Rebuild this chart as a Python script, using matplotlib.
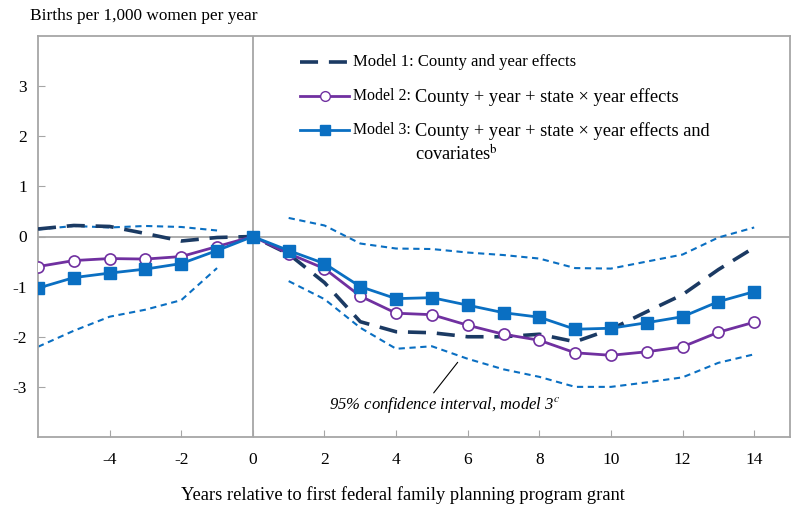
import matplotlib.pyplot as plt
from matplotlib.lines import Line2D

plt.rcParams['font.family'] = ['Liberation Serif', 'DejaVu Serif']
plt.rcParams['mathtext.fontset'] = 'stix'
plt.rcParams['axes.unicode_minus'] = False

# data
years = list(range(-6, 15))
model1 = [0.15, 0.22, 0.20, 0.06, -0.09, -0.02, 0.0,
          -0.35, -0.92, -1.70, -1.90, -1.92, -2.00, -2.00, -1.95,
          -2.10, -1.85, -1.50, -1.16, -0.66, -0.22]
model2 = [-0.60, -0.48, -0.44, -0.45, -0.40, -0.20, 0.0,
          -0.34, -0.64, -1.19, -1.53, -1.56, -1.77, -1.95, -2.07,
          -2.32, -2.37, -2.30, -2.20, -1.91, -1.71]
model3 = [-1.03, -0.82, -0.73, -0.65, -0.54, -0.28, 0.0,
          -0.28, -0.54, -1.00, -1.24, -1.22, -1.37, -1.52, -1.61,
          -1.85, -1.83, -1.72, -1.60, -1.30, -1.10]

ci_years_pre = list(range(-6, 0))
ci_upper_pre = [0.14, 0.21, 0.18, 0.21, 0.19, 0.12]
ci_lower_pre = [-2.20, -1.88, -1.60, -1.46, -1.27, -0.63]
ci_years_post = list(range(1, 15))
ci_upper_post = [0.37, 0.22, -0.14, -0.24, -0.25, -0.32, -0.37, -0.44,
                 -0.63, -0.64, -0.50, -0.36, -0.02, 0.18]
ci_lower_post = [-0.89, -1.25, -1.82, -2.24, -2.19, -2.44, -2.65, -2.80,
                 -3.00, -3.00, -2.91, -2.81, -2.52, -2.35]

xticks = list(range(-4, 15, 2))
yticks = [-3, -2, -1, 0, 1, 2, 3]

navy = '#1B3A63'
purple = '#7030A0'
blue = '#0A6FC2'
grey = '#A6A6A6'

fig = plt.figure(figsize=(8, 5.13), dpi=100)
ax = fig.add_axes([38 / 800, 1 - 437 / 513, 752 / 800, 401 / 513])

ax.axhline(0, color=grey, lw=1.3, zorder=1)
ax.axvline(0, color=grey, lw=1.3, zorder=1)

for yrs, lo, hi in [(ci_years_pre, ci_lower_pre, ci_upper_pre),
                    (ci_years_post, ci_lower_post, ci_upper_post)]:
    ax.plot(yrs, hi, color=blue, lw=1.5, dashes=(3, 2.2), zorder=2)
    ax.plot(yrs, lo, color=blue, lw=1.5, dashes=(3, 2.2), zorder=2)

ax.plot(years, model1, color=navy, lw=2.6, dashes=(5, 3), zorder=3)
ax.plot(years, model2, color=purple, lw=2, marker='o', ms=8,
        mfc='white', mec=purple, mew=1.2, zorder=4)
ax.plot(years, model3, color=blue, lw=2, marker='s', ms=8,
        mfc=blue, mec=blue, zorder=5)

ax.set_xlim(-6, 15)
ax.set_ylim(-4, 4)
ax.set_xticks(xticks)
ax.set_yticks(yticks)
ax.tick_params(direction='in', length=5, color=grey, labelsize=12.5)
ax.tick_params(axis='x', pad=11)
ax.tick_params(axis='y', pad=8)
for s in ax.spines.values():
    s.set_color(grey)
    s.set_linewidth(1.3)

# legend drawn by hand (mixed font sizes, hanging indent)
def px(x, y):
    return (x - 38) / 752, (437 - y) / 401

rows = [62, 96, 130]
handles = [
    dict(color=navy, lw=2.6, dashes=(5, 3)),
    dict(color=purple, lw=2, marker='o', ms=7, mfc='white', mec=purple,
         markevery=[1]),
    dict(color=blue, lw=2, marker='s', ms=7, mfc=blue, mec=blue,
         markevery=[1]),
]
for r, h in zip(rows, handles):
    x0, y0 = px(300, r)
    x2, _ = px(349, r)
    ax.add_line(Line2D([x0, (x0 + x2) / 2, x2], [y0, y0, y0],
                       transform=ax.transAxes, **h))

ax.text(*px(353, 62), 'Model 1: County and year effects', fontsize=12,
        va='center', transform=ax.transAxes)
ax.text(*px(353, 96), 'Model 2:', fontsize=11.4, va='center',
        transform=ax.transAxes)
ax.text(*px(415, 97), 'County + year + state \u00d7 year effects',
        fontsize=13.2, va='center', transform=ax.transAxes)
ax.text(*px(353, 130), 'Model 3:', fontsize=11.4, va='center',
        transform=ax.transAxes)
ax.text(*px(415, 131), 'County + year + state \u00d7 year effects and',
        fontsize=13.2, va='center', transform=ax.transAxes)
ax.text(*px(415, 154), 'covariates$^{\\mathrm{b}}$',
        fontsize=13.2, va='center', transform=ax.transAxes)

# callout for the confidence band
ax.annotate('', xy=(5.72, -2.51), xytext=(5.05, -3.12),
            arrowprops=dict(arrowstyle='-', color='black', lw=0.8,
                            shrinkA=0, shrinkB=0))
ax.text(5.35, -3.36, '95% confidence interval, model 3$^{c}$',
        fontsize=12, style='italic', ha='center', va='center')

fig.text(30 / 800, 1 - 16 / 513, 'Births per 1,000 women per year',
         fontsize=12.4, va='center', ha='left')
fig.text(403 / 800, 1 - 495 / 513,
         'Years relative to first federal family planning program grant',
         fontsize=13.3, va='center', ha='center')

fig.savefig('out.png', dpi=100)
